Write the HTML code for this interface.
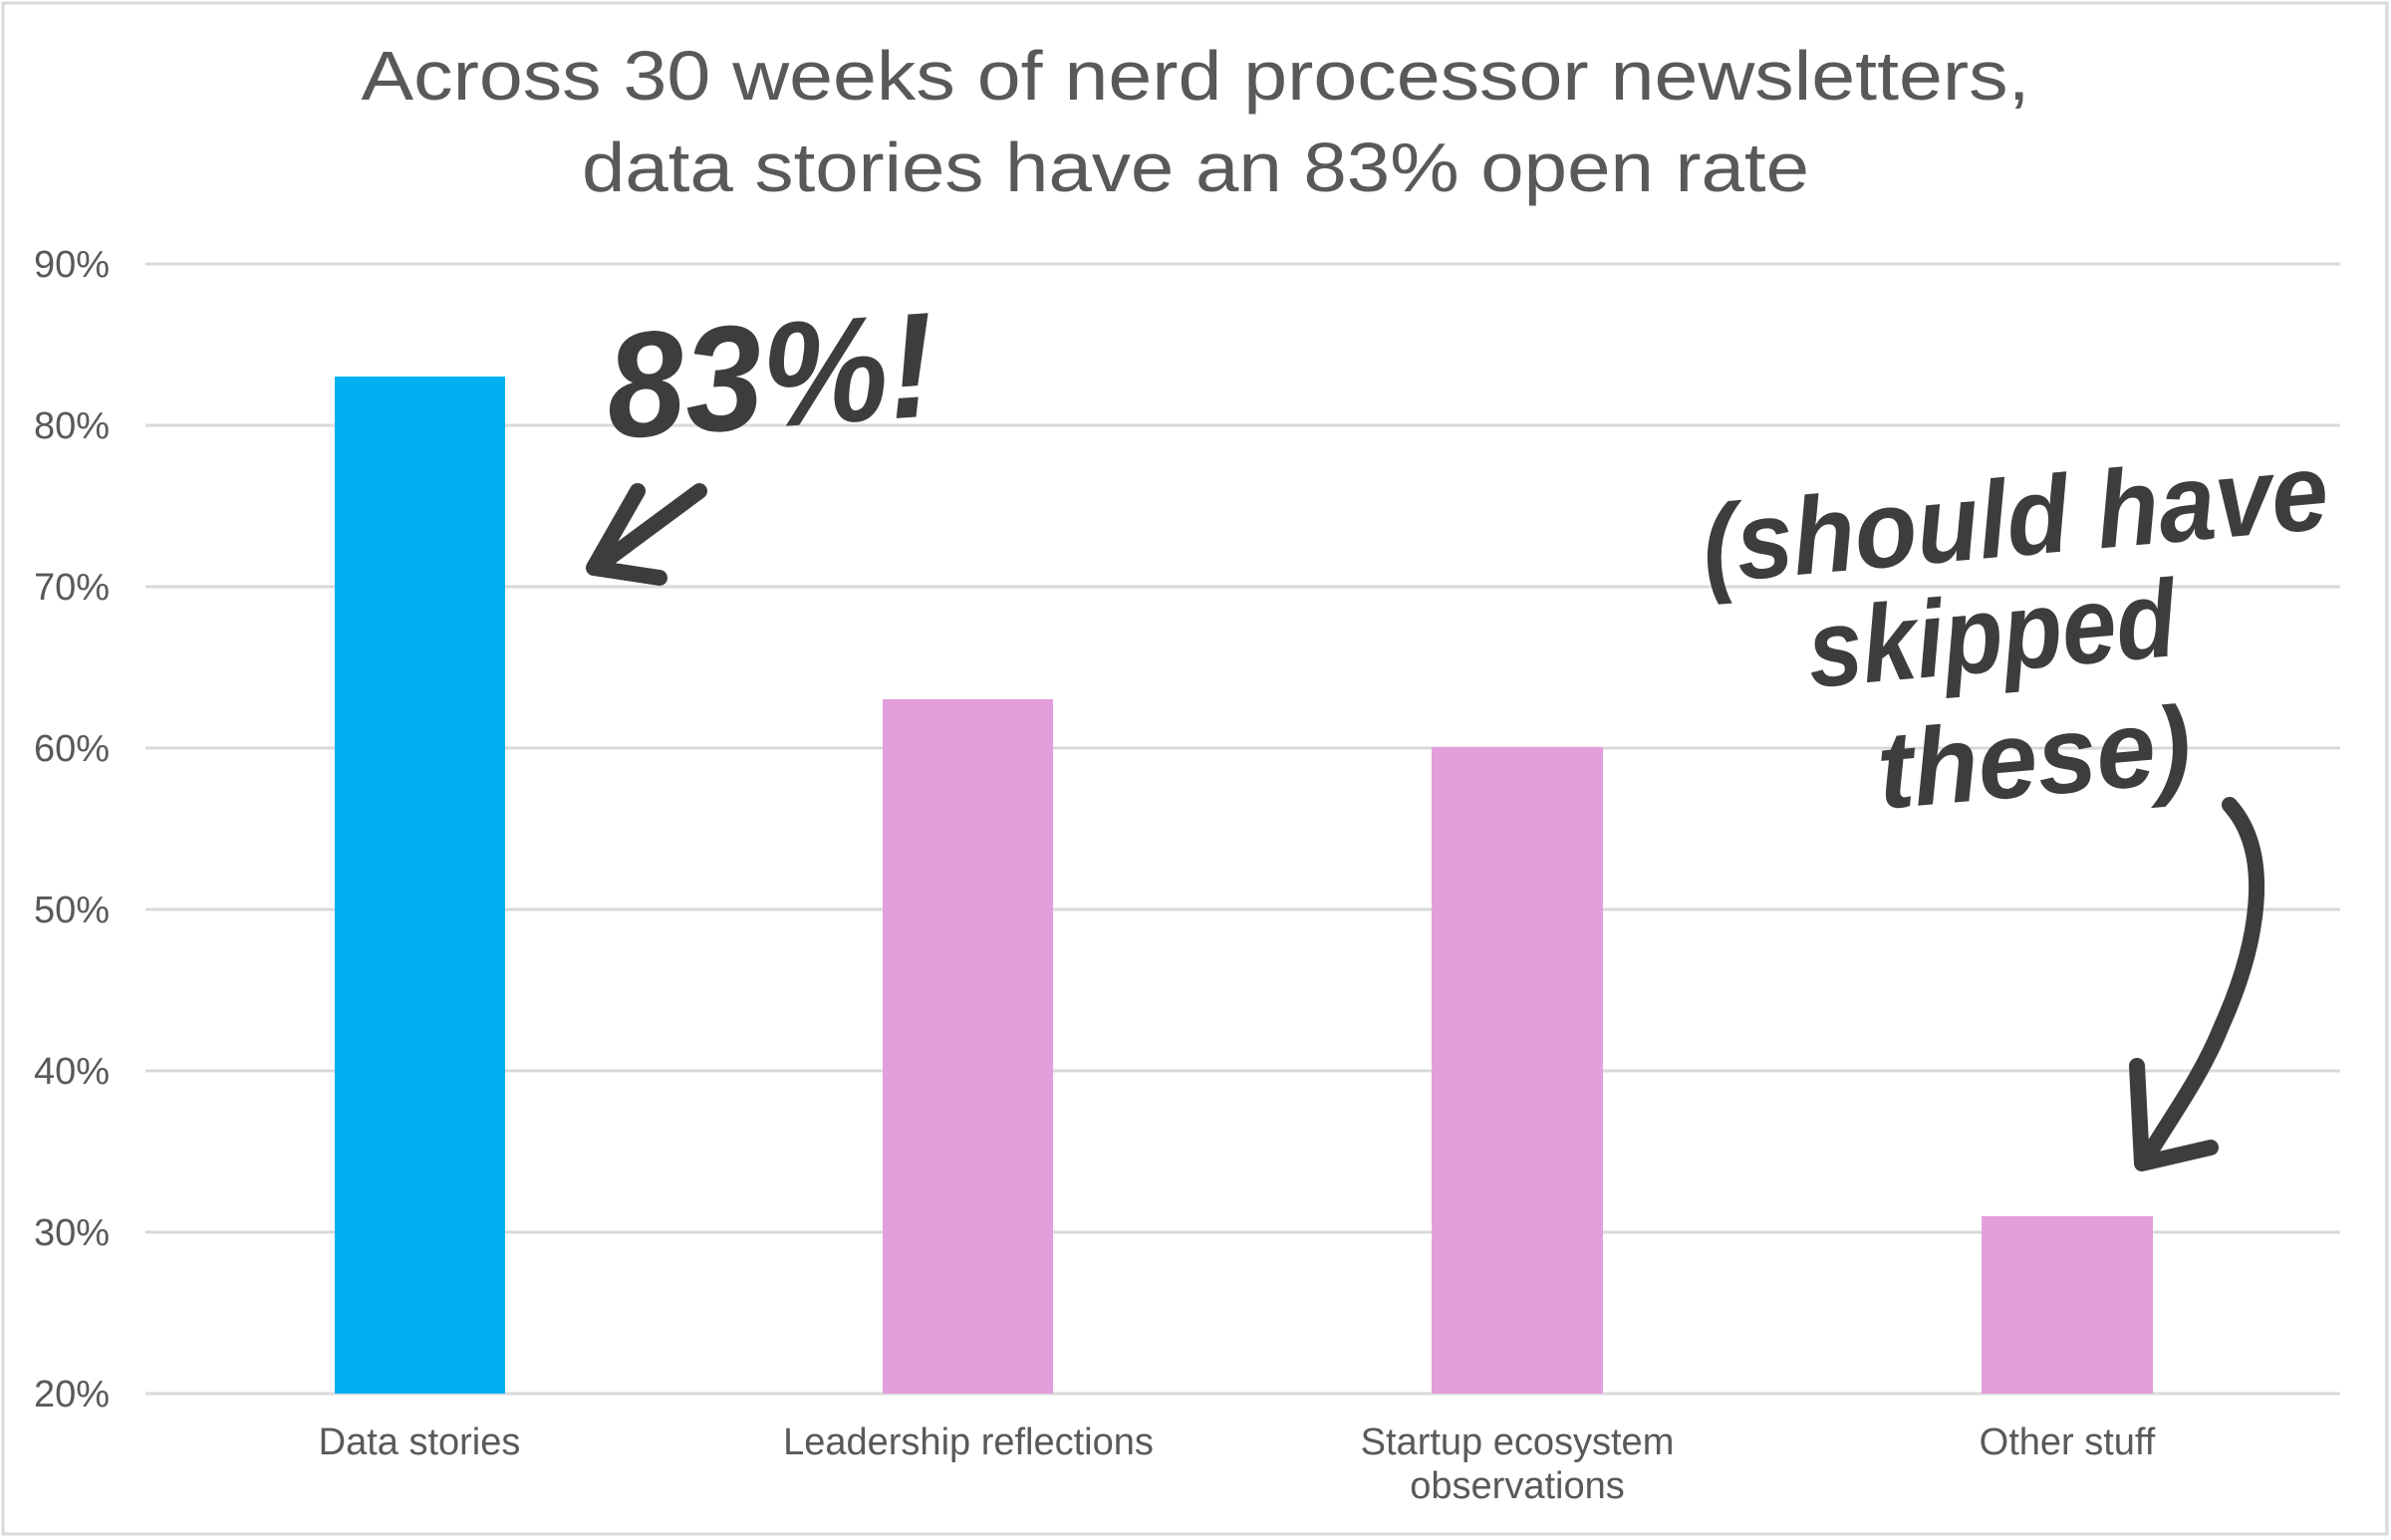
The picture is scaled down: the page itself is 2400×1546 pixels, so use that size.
<!DOCTYPE html>
<html><head><meta charset="utf-8"><style>
html,body{margin:0;padding:0;background:#fff;}
svg{display:block;}
</style></head><body>
<svg width="2400" height="1546" viewBox="0 0 2400 1546" xmlns="http://www.w3.org/2000/svg">
<rect x="0" y="0" width="2400" height="1546" fill="#fff"/>
<rect x="3" y="3" width="2393" height="1537" fill="none" stroke="#d9d9d9" stroke-width="3"/>
<g font-family="Liberation Sans, sans-serif" fill="#595959">
<text x="1200" y="100" font-size="70" text-anchor="middle" textLength="1675" lengthAdjust="spacingAndGlyphs">Across 30 weeks of nerd processor newsletters,</text>
<text x="1200" y="192" font-size="70" text-anchor="middle" textLength="1232" lengthAdjust="spacingAndGlyphs">data stories have an 83% open rate</text>
</g>
<g stroke="#d9d9d9" stroke-width="3">
<line x1="146" x2="2349" y1="265" y2="265"/>
<line x1="146" x2="2349" y1="427" y2="427"/>
<line x1="146" x2="2349" y1="589" y2="589"/>
<line x1="146" x2="2349" y1="751" y2="751"/>
<line x1="146" x2="2349" y1="913" y2="913"/>
<line x1="146" x2="2349" y1="1075" y2="1075"/>
<line x1="146" x2="2349" y1="1237" y2="1237"/>
<line x1="146" x2="2349" y1="1399" y2="1399"/>
</g>
<g font-family="Liberation Sans, sans-serif" fill="#595959" font-size="38" text-anchor="end">
<text x="110" y="278">90%</text>
<text x="110" y="440">80%</text>
<text x="110" y="602">70%</text>
<text x="110" y="764">60%</text>
<text x="110" y="926">50%</text>
<text x="110" y="1088">40%</text>
<text x="110" y="1250">30%</text>
<text x="110" y="1412">20%</text>
</g>
<rect x="336" y="378" width="171" height="1021" fill="#00b0f0"/>
<rect x="886" y="702" width="171" height="697" fill="#e39fdc"/>
<rect x="1437" y="750" width="172" height="649" fill="#e39fdc"/>
<rect x="1989" y="1221" width="172" height="178" fill="#e39fdc"/>
<g font-family="Liberation Sans, sans-serif" fill="#595959" font-size="38" text-anchor="middle">
<text x="421" y="1460">Data stories</text>
<text x="972" y="1460">Leadership reflections</text>
<text x="1523" y="1460">Startup ecosystem</text>
<text x="1523" y="1504">observations</text>
<text x="2075" y="1460">Other stuff</text>
</g>
<g fill="#3d3c3f" font-family="Liberation Sans, sans-serif" font-weight="bold" font-style="italic">
<text x="612" y="440" font-size="150" transform="rotate(-4 612 440)" textLength="330" lengthAdjust="spacingAndGlyphs">83%!</text>
<text x="1712" y="585" font-size="110" transform="rotate(-5 1712 585)" textLength="630" lengthAdjust="spacingAndGlyphs">(should have</text>
<text x="1818" y="690" font-size="110" transform="rotate(-5 1818 690)" textLength="370" lengthAdjust="spacingAndGlyphs">skipped</text>
<text x="1888" y="812" font-size="110" transform="rotate(-5 1888 812)" textLength="315" lengthAdjust="spacingAndGlyphs">these)</text>
</g>
<g fill="none" stroke="#3d3c3f" stroke-width="16" stroke-linecap="round" stroke-linejoin="round">
<path d="M702,493 L598,570"/>
<path d="M640,493 L596,570 L662,580"/>
<path d="M2238,808 C2283,858 2266,950 2230,1030 C2210,1080 2180,1120 2153,1165"/>
<path d="M2145,1070 L2150,1168 L2219,1152"/>
</g>
</svg>
</body></html>
